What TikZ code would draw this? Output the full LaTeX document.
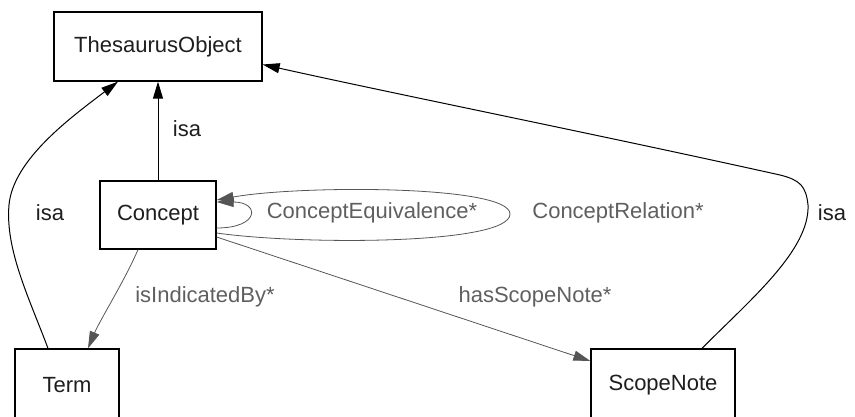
\documentclass[tikz,border=0pt]{standalone}
\usepackage{fontspec}
\setmainfont{Liberation Sans}
\usetikzlibrary{arrows.meta}
\definecolor{edgegray}{RGB}{85,85,85}
\definecolor{labelgray}{RGB}{95,95,95}
\definecolor{ink}{RGB}{30,30,30}
\begin{document}
\begin{tikzpicture}[x=1pt,y=-1pt,
  classbox/.style={draw=black,line width=1.3pt,rectangle,inner sep=0pt,
    text=ink,font=\fontsize{22}{26}\selectfont},
  isaedge/.style={draw=black,line width=1pt,
    -{Triangle[length=17pt,width=10pt]}},
  reledge/.style={draw=edgegray,line width=0.8pt,
    -{Triangle[length=17pt,width=10pt,fill=edgegray]}},
  isalabel/.style={text=ink,font=\fontsize{22}{26}\selectfont},
  rellabel/.style={text=labelgray,font=\fontsize{22}{26}\selectfont}]
\useasboundingbox (0,0) rectangle (855,417);

% classes
\node[classbox,minimum width=208pt,minimum height=69pt] (thes) at (158,46.5) {ThesaurusObject};
\node[classbox,minimum width=116pt,minimum height=68pt] (concept) at (158,215) {Concept};
\node[classbox,minimum width=104pt,minimum height=72pt] (term) at (67,385) {Term};
\node[classbox,minimum width=144pt,minimum height=72pt] (scope) at (663,385) {ScopeNote};

% end points on the top sides of the bottom boxes
\coordinate (termtop) at ([xshift=-19pt]term.north);
\coordinate (termin) at ([xshift=21pt]term.north);
\coordinate (scopetop) at ([xshift=39pt]scope.north);

% isa edges
\draw[isaedge] (concept.north) -- (thes.south);
\node[isalabel] (isa1) at (187,129) {isa};

\draw[isaedge] (termtop) .. controls (30,300) and (5,250) .. (9,205)
  .. controls (13,160) and (70,118) .. ([xshift=-40pt]thes.south);
\node[isalabel] (isa2) at (50,213) {isa};

\draw[isaedge] (scopetop) .. controls (750,300) and (810,250) .. (808,205)
  .. controls (806,186) and (800,180) .. (780,175)
  .. controls (600,135) and (400,95) .. ([yshift=-18pt]thes.east);
\node[isalabel] (isa3) at (832,213) {isa};

% relations
\draw[reledge] ([xshift=-20pt]concept.south) .. controls (125,280) and (100,320) .. (termin);
\node[rellabel] (ind) at (205,297) {isIndicatedBy*};

\draw[reledge] ([yshift=-22pt]concept.east) -- ([yshift=24pt]scope.west);
\node[rellabel] (hsn) at (535,297) {hasScopeNote*};

% self relations of Concept
\draw[reledge] ([yshift=-13pt]concept.east) .. controls (260,228) and (260,202) .. ([yshift=13pt]concept.east);
\draw[reledge] ([yshift=-18pt]concept.east) .. controls (300,245) and (510,245) .. (510,214)
  .. controls (510,185) and (300,185) .. ([yshift=15pt]concept.east);
\node[rellabel] (equiv) at (372,213) {ConceptEquivalence*};
\node[rellabel] (crel) at (618,213) {ConceptRelation*};
\end{tikzpicture}
\end{document}
